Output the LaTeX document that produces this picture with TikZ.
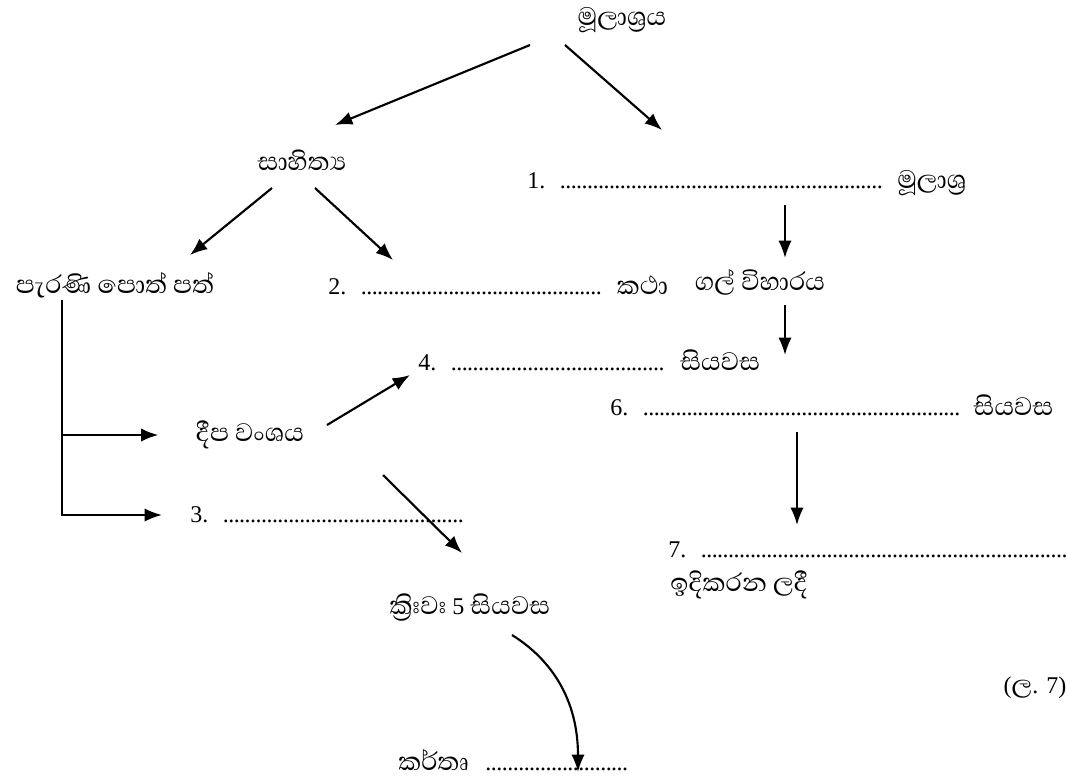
\documentclass[tikz,border=0pt]{standalone}
\usepackage{fontspec}
\setmainfont{Liberation Serif}
\newfontfamily\sifont[Script=Sinhala, Scale=1.35]{Abhaya Libre}
\usetikzlibrary{arrows.meta}

\newcommand\dotrun[1]{\leaders\hbox to 4.1pt{\hss.\hss}\hskip#1\relax\hbox{}}

\begin{document}
\begin{tikzpicture}[x=0.75pt, y=-0.75pt, font=\fontsize{18}{21}\selectfont,
	txt/.style={inner sep=0pt},
	row/.style={inner sep=0pt, anchor=west},
	arr/.style={line width=1.6pt, -{Latex[length=13pt,width=10pt]}}]
	\useasboundingbox (0,0) rectangle (1070,783);

	\node[txt] (top) at (622,20) {\sifont මූලාශ්‍රය};
	\node[txt] (sah) at (302,160) {\sifont සාහිත්‍ය};
	\node[row] (src1) at (527,183) {1.\ \ \dotrun{246pt}\ \ {\sifont මූලාශ්‍ර}};
	\node[txt] (gal) at (760,282) {\sifont ගල් විහාරය};
	\node[txt] (par) at (115,285) {\sifont පැරණි පොත් පත්};
	\node[row] (kat) at (328,285) {2.\ \ \dotrun{185pt}\ \ {\sifont කථා}};
	\node[row] (siy4) at (418,360) {4.\ \ \dotrun{165pt}\ \ {\sifont සියවස}};
	\node[row] (siy6) at (610,405) {6.\ \ \dotrun{241pt}\ \ {\sifont සියවස}};
	\node[txt] (dipa) at (250,435) {\sifont දීප වංශය};
	\node[row] (three) at (190,515) {3.\ \ \dotrun{183pt}};
	\node[row] (idx7) at (668,550) {7.\ \ \dotrun{280pt}};
	\node[row] (idik) at (670,585) {\sifont ඉදිකරන ලදී};
	\node[txt] (kriva) at (470,608) {{\sifont ක්‍රිඃවඃ} 5 {\sifont සියවස}};
	\node[row] (kart) at (398,760) {{\sifont කර්තෘ}\ \ \dotrun{112pt}};
	\node[txt] (page) at (1035,688) {({\sifont ල}. 7)};

	\draw[arr] ([shift={(-92,25)}]top.center) -- ([shift={(33,-35)}]sah.center);
	\draw[arr] ([shift={(-57,25)}]top.center) -- ([shift={(135,-53)}]src1.west);
	\draw[arr] ([shift={(258,22)}]src1.west) -- ([shift={(25,-24)}]gal.center);
	\draw[arr] ([shift={(-30,28)}]sah.center) -- ([shift={(75,-30)}]par.center);
	\draw[arr] ([shift={(13,28)}]sah.center) -- ([shift={(65,-25)}]kat.west);
	\draw[arr] ([shift={(25,23)}]gal.center) -- ([shift={(175,-50)}]siy6.west);
	\draw[arr] ([shift={(77,-10)}]dipa.center) -- ([shift={(-8,15)}]siy4.west);
	\draw[arr] ([shift={(187,27)}]siy6.west) -- ([shift={(129,-25)}]idx7.west);
	\draw[arr] ([shift={(193,-40)}]three.west) -- ([shift={(-8,-55)}]kriva.center);
	\draw[arr] ([shift={(42,27)}]kriva.center) .. controls (552,660) and (578,700) .. ([shift={(180,12)}]kart.west);

	% fork under the old books
	\draw[arr, shorten >=28pt] ([shift={(-53,15)}]par.center) |- (dipa.west);
	\draw[arr, shorten >=21pt] ([shift={(-53,15)}]par.center) |- (three.west);
\end{tikzpicture}
\end{document}
